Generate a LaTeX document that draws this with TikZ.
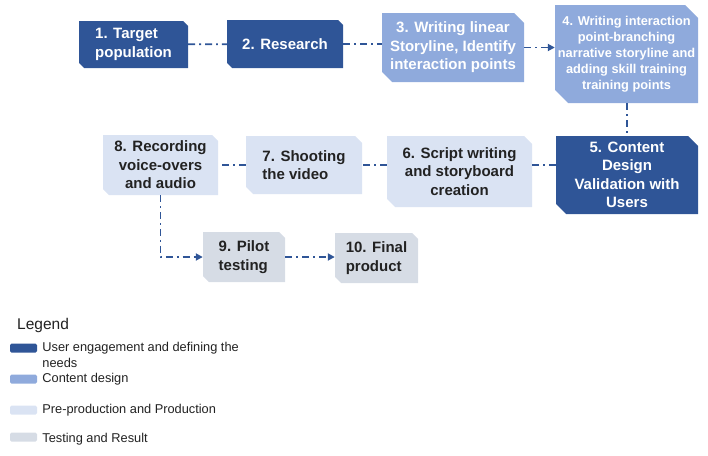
\documentclass[tikz,border=0pt]{standalone}
\usepackage{fontspec}
\setmainfont{Liberation Sans}
\usetikzlibrary{arrows.meta, positioning, calc}

\definecolor{userblue}{HTML}{2F5597}
\definecolor{contentblue}{HTML}{8FAADC}
\definecolor{prodblue}{HTML}{DAE3F3}
\definecolor{testgray}{HTML}{D6DCE5}
\definecolor{textdark}{HTML}{222222}

\tikzset{
  snip/.style 2 args={rectangle, inner sep=0pt,
    path picture={\fill[#1] (path picture bounding box.north west)
      -- ([xshift=-#2]path picture bounding box.north east)
      -- ([yshift=-#2]path picture bounding box.north east)
      -- (path picture bounding box.south east)
      -- ([xshift=#2]path picture bounding box.south west)
      -- ([yshift=#2]path picture bounding box.south west) -- cycle;}}
}

\begin{document}
\begin{tikzpicture}[x=1pt,y=-1pt,align=center]
\tikzstyle{box}=[font=\bfseries\fontsize{15pt}{18.5pt}\selectfont]
\tikzstyle{link}=[draw=userblue, line width=1.8pt, dash pattern=on 7pt off 4pt on 1.8pt off 4pt]
\tikzstyle{arrowlink}=[link, -{Triangle[length=7pt,width=7pt]}]
\tikzstyle{swatch}=[rounded corners=1.5pt, minimum width=27pt, minimum height=9pt, inner sep=0pt]
\tikzstyle{legtext}=[inner sep=0pt, align=left, text=textdark, font=\fontsize{12.8pt}{16pt}\selectfont]

\useasboundingbox (0,0) rectangle (708,455);

% steps
\node[box, snip={userblue}{5pt}, text=white, minimum width=109pt, minimum height=47pt, align=left] (n1) at (133.5,44.5) {1. Target\\population};
\node[box, snip={userblue}{5pt}, text=white, minimum width=116pt, minimum height=48pt] (n2) at (285,44) {2. Research};
\node[box, snip={contentblue}{10pt}, text=white, minimum width=142pt, minimum height=69pt] (n3) at (453,47.5) {3. Writing linear\\Storyline, Identify\\interaction points};
\node[box, snip={contentblue}{13pt}, text=white, minimum width=143pt, minimum height=98pt,
  font=\bfseries\fontsize{12.8pt}{16pt}\selectfont] (n4) at (626.5,54) {4. Writing interaction\\point-branching\\narrative storyline and\\adding skill training\\training points};
\node[box, snip={userblue}{10pt}, text=white, minimum width=142pt, minimum height=78pt] (n5) at (627,175) {5. Content\\Design\\Validation with\\Users};
\node[box, snip={prodblue}{8pt}, text=textdark, minimum width=145pt, minimum height=71pt] (n6) at (459.5,171.5) {6. Script writing\\and storyboard\\creation};
\node[box, snip={prodblue}{7pt}, text=textdark, minimum width=116pt, minimum height=58pt, align=left] (n7) at (304,165) {7. Shooting\\the video};
\node[box, snip={prodblue}{6pt}, text=textdark, minimum width=115pt, minimum height=60pt] (n8) at (160.5,165) {8. Recording\\voice-overs\\and audio};
\node[box, snip={testgray}{6pt}, text=textdark, minimum width=82pt, minimum height=50pt, align=left] (n9) at (244,257) {9. Pilot\\testing};
\node[box, snip={testgray}{6pt}, text=textdark, minimum width=83pt, minimum height=50pt, align=left] (n10) at (376.5,258) {10. Final\\product};

% connectors
\draw[link] (n1) -- (n2);
\draw[link] (n2.east) -- (n2.east -| n3.west);
\draw[arrowlink] (n3.east) -- (n3.east -| n4.west);
\draw[link] (n4.south -| n5.north) -- (n5.north);
\draw[link] (n7 -| n5.west) -- (n7 -| n6.east);
\draw[link] (n7 -| n6.west) -- (n7.east);
\draw[link] (n7.west) -- (n8.east);
\draw[arrowlink] (n8.south) |- (n9.west);
\draw[arrowlink] (n9.east) -- (n9.east -| n10.west);

% legend
\node[anchor=west, inner sep=0pt, text=textdark, font=\fontsize{15.5pt}{18pt}\selectfont] (legend) at (17,325) {Legend};
\node[swatch, fill=userblue] (sw1) at (23.5,348) {};
\node[swatch, fill=contentblue] (sw2) at (23.5,379) {};
\node[swatch, fill=prodblue] (sw3) at (23.5,410) {};
\node[swatch, fill=testgray] (sw4) at (23.5,437) {};
\node[legtext, right=5pt of sw1, yshift=-7pt] (lt1) {User engagement and defining the\\needs};
\node[legtext, right=5pt of sw2] (lt2) {Content design};
\node[legtext, right=5pt of sw3] (lt3) {Pre-production and Production};
\node[legtext, right=5pt of sw4, yshift=-2pt] (lt4) {Testing and Result};
\end{tikzpicture}
\end{document}
